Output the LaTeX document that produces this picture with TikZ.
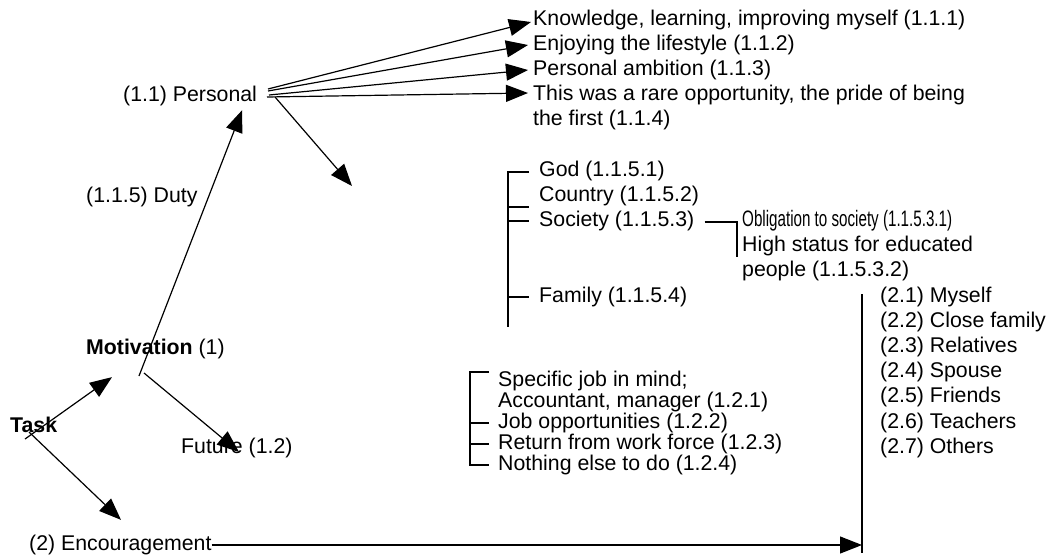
\documentclass[tikz,border=0pt]{standalone}
\usepackage{fontspec}
\setmainfont{Liberation Sans}
\usepackage{graphicx}
\usetikzlibrary{arrows.meta,positioning,calc}

\tikzset{
  lbl/.style={inner sep=0pt, anchor=west, font=\fontsize{21.3}{25}\selectfont},
  arr/.style={-{Triangle[length=22pt,width=17pt]}, line width=1.2pt},
  tie/.style={line width=1.2pt},
}

\begin{document}
\begin{tikzpicture}[x=1pt,y=-1pt]
\useasboundingbox (0,0) rectangle (1057,559);

% main branches
\node[lbl] (task) at (10,425) {\textbf{Task}};
\node[lbl] (motiv) at (86,349) {\textbf{Motivation} (1)};
\node[lbl] (personal) at (123,96) {(1.1) Personal};
\node[lbl] (duty) at (86,197) {(1.1.5) Duty};
\node[lbl] (future) at (181,448) {Future (1.2)};
\node[lbl] (encour) at (29,545) {(2) Encouragement};

% personal reasons
\node[lbl] (know) at (533,20) {Knowledge, learning, improving myself (1.1.1)};
\node[lbl] (enjoy) at (533,45) {Enjoying the lifestyle (1.1.2)};
\node[lbl] (ambit) at (533,70) {Personal ambition (1.1.3)};
\node[lbl] (rare) at (533,95) {This was a rare opportunity, the pride of being};
\node[lbl] (rareb) at (533,120) {the first (1.1.4)};

% duty list
\node[lbl] (god) at (539,171) {God (1.1.5.1)};
\node[lbl] (country) at (539,196) {Country (1.1.5.2)};
\node[lbl] (society) at (539,221) {Society (1.1.5.3)};
\node[lbl] (family) at (539,297) {Family (1.1.5.4)};
\node[lbl] (oblig) at (742,221) {\resizebox{210pt}{1.05\height}{Obligation to society (1.1.5.3.1)}};
\node[lbl] (status) at (742,246) {High status for educated};
\node[lbl] (statusb) at (742,271) {people (1.1.5.3.2)};

% future list
\node[lbl] (spec) at (498,381) {Specific job in mind;};
\node[lbl] (specb) at (498,402) {Accountant, manager (1.2.1)};
\node[lbl] (jobs) at (498,423) {Job opportunities (1.2.2)};
\node[lbl] (retn) at (498,444) {Return from work force (1.2.3)};
\node[lbl] (nothing) at (498,465) {Nothing else to do (1.2.4)};

% encouragement list
\node[lbl] (myself) at (880,297) {(2.1) Myself};
\node[lbl] (close) at (880,322) {(2.2) Close family};
\node[lbl] (relat) at (880,347) {(2.3) Relatives};
\node[lbl] (spouse) at (880,372) {(2.4) Spouse};
\node[lbl] (friend) at (880,397) {(2.5) Friends};
\node[lbl] (teach) at (880,423) {(2.6) Teachers};
\node[lbl] (others) at (880,448) {(2.7) Others};

\coordinate (pout) at (268,93);
\coordinate (mstem) at (139,376);
\coordinate (godlink) at (352,186);
\coordinate (ebartop) at (862,294);
\coordinate (ebarbot) at (862,553);

% arrows
\draw[arr] ($(task.south west)+(15,6)$) -- ($(motiv.south west)+(26,18)$);
\draw[arr] ($(task.south west)+(19,-1)$) -- ($(encour.north west)+(92,-15)$);
\draw[arr] (mstem) -- ($(personal.south east)+(-15,4)$);
\draw[arr] ($(mstem)+(5,-3)$) -- ($(future.west)+(58,4)$);
\draw[arr] ($(pout)+(0,-4)$) -- ($(know.west)+(-2,2)$);
\draw[arr] ($(pout)+(0,-2)$) -- ($(enjoy.west)+(-5,0)$);
\draw[arr] ($(pout)+(1,2)$) -- ($(ambit.west)+(-5,0)$);
\draw[arr] ($(pout)+(-1,4)$) -- ($(rare.west)+(-5,-2)$);
\draw[arr] ($(pout)+(7,4)$) -- (godlink);
\draw[arr] (encour.east) -- (encour.east -| ebartop);
\draw[tie] (ebartop) -- (ebarbot);

% duty bracket
\draw[tie] ($(god.west)+(-10,1)$) -- ($(god.west)+(-31,1)$) -- ($(family.west)+(-31,30)$);
\draw[tie] ($(country.west)+(-31,11)$) -- ($(country.west)+(-10,11)$);
\foreach \n in {society,family}
  \draw[tie] ($(\n.west)+(-31,0)$) -- ($(\n.west)+(-10,0)$);
\draw[tie] ($(society.east)+(10,1)$) -| ($(oblig.west)+(-5,36)$);

% future bracket
\draw[tie] ($(spec.west)+(-9,-9)$) -- ($(spec.west)+(-28,-9)$) -- ($(nothing.west)+(-28,0)$) -- ($(nothing.west)+(-9,0)$);
\foreach \n in {jobs,retn}
  \draw[tie] ($(\n.west)+(-28,0)$) -- ($(\n.west)+(-9,0)$);
\end{tikzpicture}
\end{document}
